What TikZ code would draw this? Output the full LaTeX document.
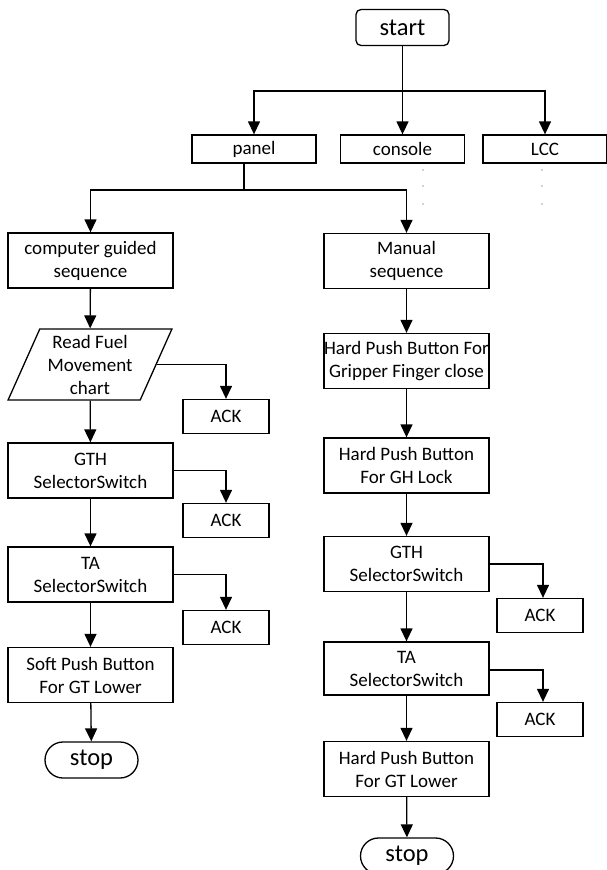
\documentclass[tikz,border=0pt]{standalone}
\usepackage{fontspec}
\setmainfont{Carlito}
\usetikzlibrary{arrows.meta,shapes.geometric,shapes.misc}
\tikzset{
  txt/.style={font=\fontsize{19}{23}\selectfont},
  box/.style={draw, line width=1.3pt, minimum width=165pt, minimum height=55pt, align=center, inner sep=0pt, txt},
  topbox/.style={draw, line width=1.3pt, minimum width=124pt, minimum height=28pt, inner sep=0pt, txt},
  ackbox/.style={draw, line width=1.3pt, minimum width=86pt, minimum height=34pt, inner sep=0pt, txt},
  term/.style={draw, line width=1.3pt, minimum width=93pt, minimum height=36pt, inner sep=0pt,
    font=\fontsize{24.5}{28}\selectfont},
  io/.style={draw, line width=1.3pt, trapezium, trapezium left angle=65.7, trapezium right angle=114.3,
    trapezium stretches=true, minimum width=164pt, minimum height=71pt, inner sep=0pt, align=center, txt},
  arr/.style={line width=1.3pt, -{Triangle[length=13pt,width=12pt]}},
  ln/.style={line width=1.3pt},
  dot/.style={fill=gray!70, draw=none, circle, inner sep=0pt, minimum size=1.8pt}
}
\begin{document}
\begin{tikzpicture}[x=1pt,y=-1pt]
\useasboundingbox (0,0) rectangle (606,870);
% top
\node[term, rounded corners=5pt] (start) at (402.5,27.5) {start};
\node[topbox] (panel) at (254,149) {panel};
\node[topbox] (console) at (402.5,149) {console};
\node[topbox] (lcc) at (545,149) {LCC};
\coordinate (br) at (402.5,91);
\draw[arr] (start) -- (console);
\draw[arr] (br) -| (panel);
\draw[arr] (br) -| (lcc);
\foreach \yy [count=\i] in {170,186,204} {
  \node[dot] (cd\i) at (423,\yy) {};
  \node[dot] (ld\i) at (542,\yy) {};
}
% left column
\node[box] (cg) at (90.5,260.5) {computer guided\\sequence};
\node[io] (rf) at (90,364.5) {Read Fuel\\Movement\\chart};
\node[box] (gth1) at (90.5,470.5) {GTH\\SelectorSwitch};
\node[box] (ta1) at (90.5,574.5) {TA\\SelectorSwitch};
\node[box] (soft) at (90.5,675) {Soft Push Button\\For GT Lower};
\node[term, rounded rectangle] (stop1) at (91.5,760) {stop};
\node[ackbox] (ack1) at (226,416.5) {ACK};
\node[ackbox] (ack2) at (226,520.5) {ACK};
\node[ackbox] (ack3) at (226,627.5) {ACK};
% right column
\node[box] (man) at (406.5,261) {Manual\\sequence};
\node[box] (hard1) at (406.5,361) {Hard Push Button For\\Gripper Finger close};
\node[box] (hard2) at (406.5,465.5) {Hard Push Button\\For GH Lock};
\node[box] (gth2) at (406.5,564) {GTH\\SelectorSwitch};
\node[box, minimum height=53pt] (ta2) at (406.5,668.5) {TA\\SelectorSwitch};
\node[box] (hard3) at (406.5,769) {Hard Push Button\\For GT Lower};
\node[term, rounded rectangle] (stop2) at (407,856) {stop};
\node[ackbox] (ack4) at (540,615.5) {ACK};
\node[ackbox] (ack5) at (540,719.5) {ACK};
% split under panel
\coordinate (ps) at ([xshift=-10pt]panel.south);
\coordinate (sp) at (244,190);
\draw[ln] (ps) -- (sp);
\draw[arr] (sp) -| (cg.north);
\draw[arr] (sp) -| (man.north);
% left flow
\draw[arr] (cg) -- (rf);
\draw[arr] (rf) -- (gth1);
\draw[arr] (gth1) -- (ta1);
\draw[arr] (ta1) -- (soft);
\draw[arr] (soft) -- (stop1);
\draw[arr] (rf.east) -| (ack1.north);
\draw[arr] (gth1.east) -| (ack2.north);
\draw[arr] (ta1.east) -| (ack3.north);
% right flow
\draw[arr] (man) -- (hard1);
\draw[arr] (hard1) -- (hard2);
\draw[arr] (hard2) -- (gth2);
\draw[arr] (gth2) -- (ta2);
\draw[arr] (ta2) -- (hard3);
\draw[arr] (hard3) -- (stop2);
\draw[arr] (gth2.east) -| ([xshift=3pt]ack4.north);
\draw[arr] ([yshift=-1.5pt]ta2.east) -| ([xshift=3pt]ack5.north);
\end{tikzpicture}
\end{document}
